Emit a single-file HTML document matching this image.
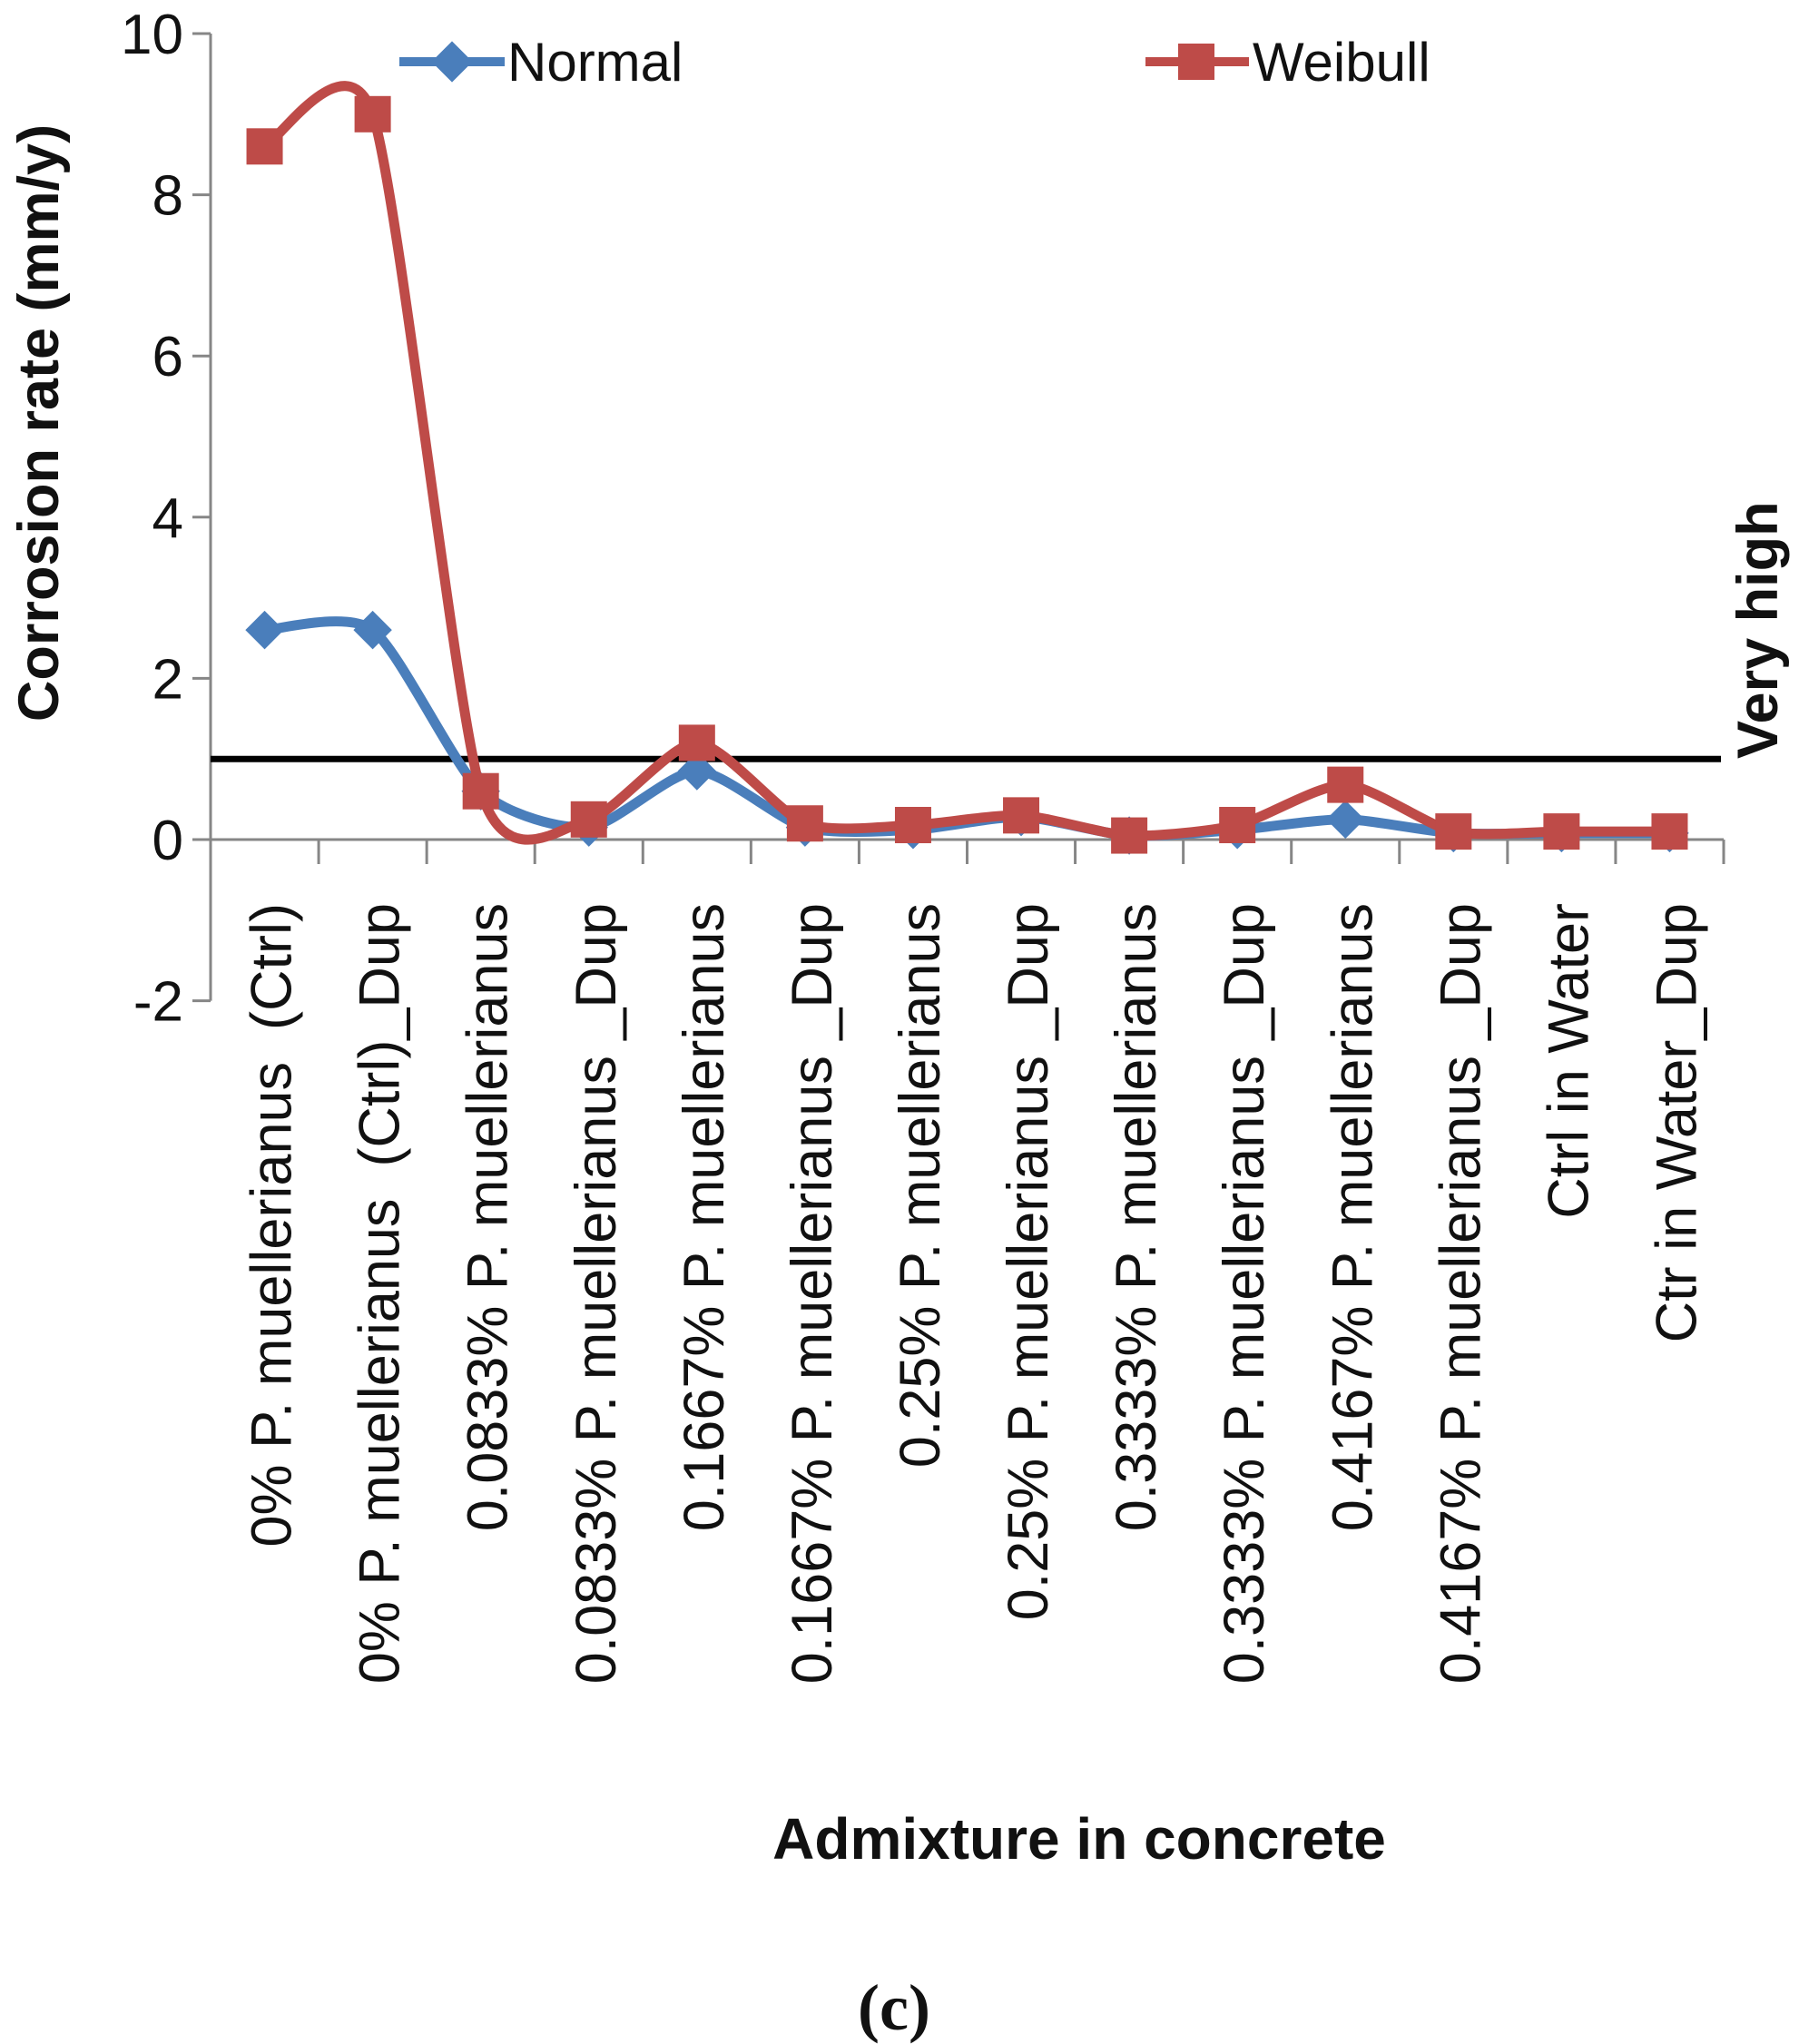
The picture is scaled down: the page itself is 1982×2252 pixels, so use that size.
<!DOCTYPE html>
<html><head><meta charset="utf-8"><style>
html,body{margin:0;padding:0;background:#fff;}
svg{display:block;font-family:"Liberation Sans",sans-serif;}
.xl{white-space:pre;}
</style></head><body>
<svg id="chart" width="1982" height="2252" viewBox="0 0 1982 2252" xmlns="http://www.w3.org/2000/svg">
<rect width="1982" height="2252" fill="#fff"/>
<g id="axes"></g>
<g id="series"></g>
<text transform="translate(64,466) rotate(-90)" text-anchor="middle" font-weight="bold" font-size="63" fill="#111">Corrosion rate (mm/y)</text>
<text x="1189" y="2048" text-anchor="middle" font-weight="bold" font-size="64" fill="#111">Admixture in concrete</text>
<text transform="translate(1958,836) rotate(-90)" text-anchor="start" font-weight="bold" font-size="63" fill="#111">Very high</text>
<text x="985" y="2236" text-anchor="middle" font-family="Liberation Serif, serif" font-weight="bold" font-size="72" fill="#111">(c)</text>
<g>
  <line x1="440" y1="68" x2="556" y2="68" stroke="#4a7ebb" stroke-width="10"/>
  <rect x="482" y="52" width="32" height="32" transform="rotate(45 498 68)" fill="#4a7ebb"/>
  <text x="559" y="89" font-size="60" fill="#111">Normal</text>
  <line x1="1262" y1="68" x2="1376" y2="68" stroke="#be4b48" stroke-width="10"/>
  <rect x="1298" y="48" width="40" height="40" fill="#be4b48"/>
  <text x="1380" y="89" font-size="60" fill="#111">Weibull</text>
</g>
</svg>
<script>
const categories = ["0% P. muellerianus  (Ctrl)","0% P. muellerianus  (Ctrl)_Dup","0.0833% P. muellerianus","0.0833% P. muellerianus _Dup","0.1667% P. muellerianus","0.1667% P. muellerianus _Dup","0.25% P. muellerianus","0.25% P. muellerianus _Dup","0.3333% P. muellerianus","0.3333% P. muellerianus _Dup","0.4167% P. muellerianus","0.4167% P. muellerianus _Dup","Ctrl in Water","Ctr in Water_Dup"];
const normalValues = [2.6,2.6,0.6,0.15,0.85,0.15,0.12,0.28,0.05,0.12,0.25,0.08,0.08,0.08];
const weibullValues = [8.6,9.0,0.6,0.25,1.2,0.2,0.18,0.3,0.05,0.18,0.68,0.1,0.1,0.1];
const yTicks = [-2,0,2,4,6,8,10];
const thresholdValue = 1;

const NS="http://www.w3.org/2000/svg";
const X0=232, X1=1899, Y10=37, Y0=925;
const step=(X1-X0)/categories.length;
function xPos(i){return X0+step*(i+0.5);}
function yPos(v){return Y0-(Y0-Y10)*v/10;}
function mk(tag,attrs,parent){const e=document.createElementNS(NS,tag);for(const k in attrs)e.setAttribute(k,attrs[k]);parent.appendChild(e);return e;}
const axes=document.getElementById('axes');
const series=document.getElementById('series');

let yl=mk('line',{x1:X0,y1:yPos(10),x2:X0,y2:yPos(-2),stroke:'#868686','stroke-width':3},axes);


let xl=mk('line',{x1:X0,y1:yPos(0),x2:X1,y2:yPos(0),stroke:'#868686','stroke-width':3},axes);


yTicks.forEach(t=>{
  mk('line',{x1:X0-20,y1:yPos(t),x2:X0,y2:yPos(t),stroke:'#868686','stroke-width':3},axes);
  const tx=mk('text',{x:X0-30,y:yPos(t)+22,'text-anchor':'end','font-size':62,fill:'#111'},axes);
  tx.textContent=t;
  
  
});
for(let i=0;i<=categories.length;i++){
  const x=X0+step*i;
  mk('line',{x1:x,y1:yPos(0),x2:x,y2:yPos(0)+27,stroke:'#868686','stroke-width':3},axes);
}
categories.forEach((c,i)=>{
  const x=xPos(i)+8, y=995;
  const tx=mk('text',{class:'xl',transform:`translate(${x},${y}) rotate(-90)`,'text-anchor':'end','dominant-baseline':'central','font-size':63,fill:'#111'},axes);
  tx.textContent=c;
  
  
});
let th=mk('line',{x1:X0,y1:yPos(thresholdValue),x2:1896,y2:yPos(thresholdValue),stroke:'#000','stroke-width':7},axes);



function smoothPath(vals){
  const p=vals.map((v,i)=>[xPos(i),yPos(v)]);
  let d=`M${p[0][0]},${p[0][1]}`;
  const t=0.12;
  for(let i=0;i<p.length-1;i++){
    const p0=p[Math.max(0,i-1)],p1=p[i],p2=p[i+1],p3=p[Math.min(p.length-1,i+2)];
    const c1=[p1[0]+(p2[0]-p0[0])*t,p1[1]+(p2[1]-p0[1])*t];
    const c2=[p2[0]-(p3[0]-p1[0])*t,p2[1]-(p3[1]-p1[1])*t];
    d+=` C${c1[0]},${c1[1]} ${c2[0]},${c2[1]} ${p2[0]},${p2[1]}`;
  }
  return d;
}
let nl=mk('path',{d:smoothPath(normalValues),fill:'none',stroke:'#4a7ebb','stroke-width':11,'stroke-linejoin':'round'},series);


normalValues.forEach((v,i)=>{
  const x=xPos(i),y=yPos(v);
  const m=mk('rect',{x:x-15,y:y-15,width:30,height:30,transform:`rotate(45 ${x} ${y})`,fill:'#4a7ebb'},series);
  
  
});
let wl=mk('path',{d:smoothPath(weibullValues),fill:'none',stroke:'#be4b48','stroke-width':11,'stroke-linejoin':'round'},series);


weibullValues.forEach((v,i)=>{
  const x=xPos(i),y=yPos(v);
  const m=mk('rect',{x:x-20,y:y-20,width:40,height:40,fill:'#be4b48'},series);
  
  
});
</script>
</body></html>
